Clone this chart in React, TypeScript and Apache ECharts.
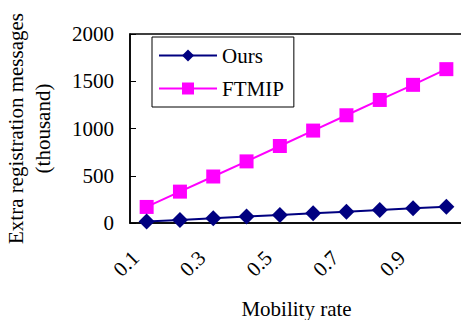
import React, { useEffect, useRef } from "react";
import * as echarts from "echarts";

const categories = ["0.1", "0.2", "0.3", "0.4", "0.5", "0.6", "0.7", "0.8", "0.9", "1.0"];
const oursValues = [15, 33, 50, 68, 85, 103, 120, 138, 155, 173];
const ftmipValues = [170, 332, 492, 652, 815, 978, 1140, 1302, 1462, 1628];
const yTicks = { min: 0, max: 2000, interval: 500 };

const FONT = "Liberation Serif";

export default function App() {
  const ref = useRef<HTMLDivElement>(null);
  useEffect(() => {
    document.body.style.margin = "0";
    const chart = echarts.init(ref.current!, null, { renderer: "svg" });
    chart.setOption({
      animation: false,
      backgroundColor: "#ffffff",
      textStyle: { fontFamily: FONT, color: "#000", fontSize: 21 },
      grid: {
        left: 130,
        top: 34,
        width: 333,
        bottom: 97,
        show: true,
        borderColor: "#000",
        borderWidth: 1.5,
        outerBoundsMode: "none",
        containLabel: false,
      },
      legend: {
        orient: "vertical",
        left: 152,
        top: 37,
        borderColor: "#000",
        borderWidth: 1,
        padding: [8, 10, 8, 6],
        itemGap: 12,
        itemWidth: 58,
        itemHeight: 15,
        textStyle: { fontSize: 21, fontFamily: FONT, color: "#000" },
        data: ["Ours", "FTMIP"],
      },
      xAxis: {
        type: "category",
        data: categories,
        boundaryGap: true,
        name: "Mobility rate",
        nameLocation: "middle",
        nameGap: 75,
        nameTextStyle: { fontSize: 21, fontFamily: FONT, color: "#000" },
        axisLine: { lineStyle: { color: "#000", width: 1.5 } },
        axisTick: { inside: true, length: 6, lineStyle: { color: "#000" } },
        axisLabel: {
          interval: 1,
          rotate: 45,
          margin: 20,
          padding: [0, 16, 0, 0],
          fontSize: 21,
          fontFamily: FONT,
          color: "#000",
        },
        splitLine: { show: false },
      },
      yAxis: {
        type: "value",
        min: yTicks.min,
        max: yTicks.max,
        interval: yTicks.interval,
        name: "Extra registration messages\n(thousand)",
        nameLocation: "middle",
        nameGap: 74,
        nameTextStyle: { fontSize: 21, fontFamily: FONT, color: "#000", lineHeight: 27 },
        axisLine: { show: true, lineStyle: { color: "#000", width: 1.5 } },
        axisTick: { show: true, inside: true, length: 6, lineStyle: { color: "#000" } },
        axisLabel: {
          fontSize: 21,
          fontFamily: FONT,
          color: "#000",
          margin: 16,
          formatter: (v: number) => String(v),
        },
        splitLine: { show: false },
      },
      series: [
        {
          name: "Ours",
          type: "line",
          data: oursValues,
          symbol: "diamond",
          symbolSize: 16,
          color: "#000080",
          lineStyle: { width: 2, color: "#000080" },
          itemStyle: { color: "#000080" },
          z: 3,
        },
        {
          name: "FTMIP",
          type: "line",
          data: ftmipValues,
          symbol: "rect",
          symbolSize: 14,
          color: "#ff00ff",
          lineStyle: { width: 2, color: "#ff00ff" },
          itemStyle: { color: "#ff00ff" },
          z: 2,
        },
      ],
    });
    return () => chart.dispose();
  }, []);
  return <div ref={ref} style={{ width: 461, height: 320 }} />;
}
